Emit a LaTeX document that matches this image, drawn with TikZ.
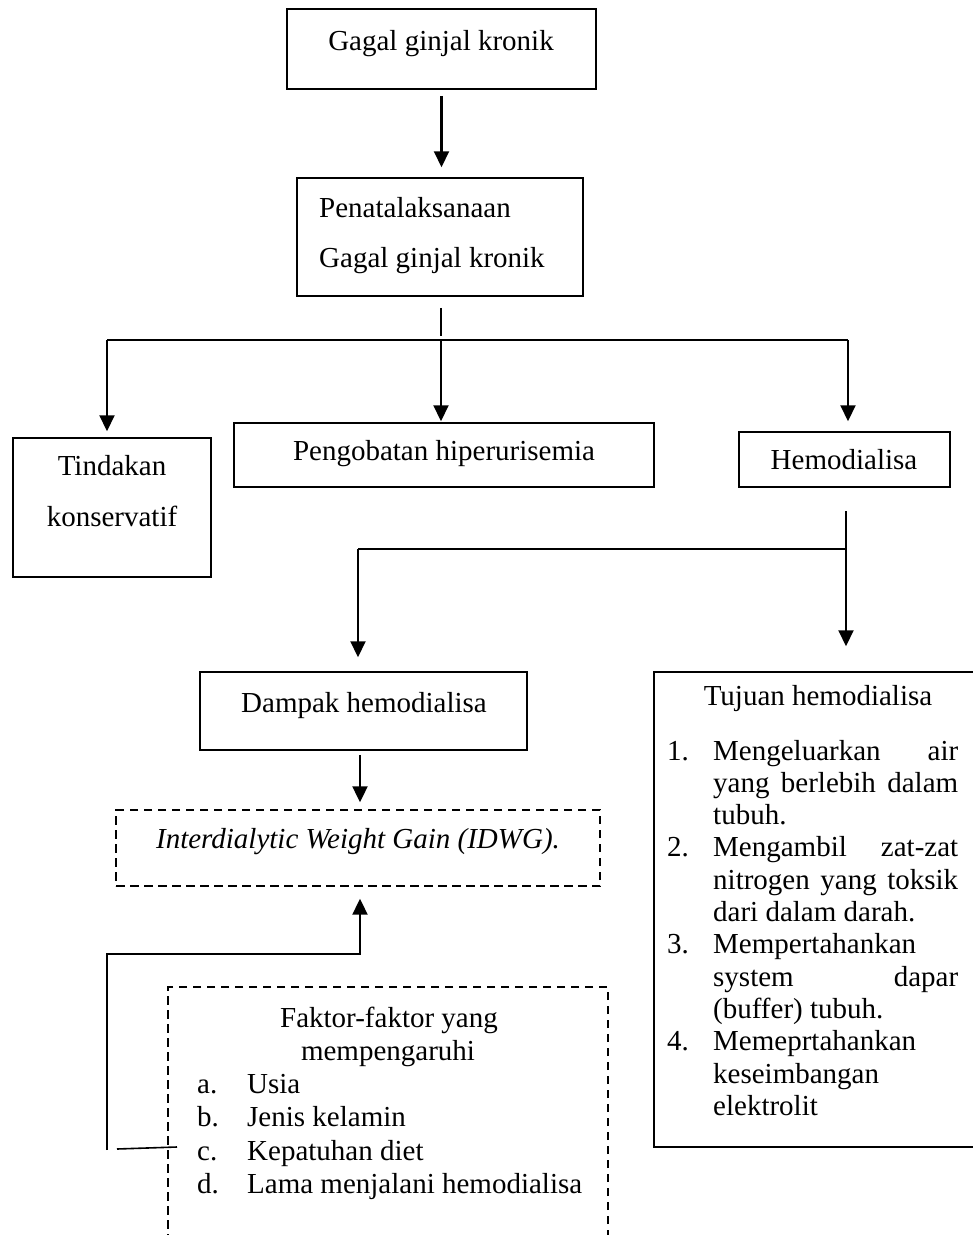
\documentclass[tikz,border=0pt]{standalone}
\usepackage{fontspec}
\setmainfont{Liberation Serif}
\usetikzlibrary{arrows.meta}
\begin{document}
\begin{tikzpicture}[x=1pt,y=-1pt,
  every node/.style={font=\fontsize{29}{32.4}\selectfont, inner sep=0pt},
  box/.style={draw, line width=1.5pt},
  dbox/.style={draw, line width=1.4pt, dash pattern=on 8.5pt off 5.5pt},
  conn/.style={line width=2.1pt},
  thinconn/.style={line width=1.2pt},
  arr/.style={conn, -{Triangle[length=16pt,width=15pt]}},
  txt/.style={anchor=base},
  ltxt/.style={anchor=base west},
  ]
\useasboundingbox (0,0) rectangle (973,1235);

% boxes
\node[box, minimum width=309pt, minimum height=80pt] (b1) at (441.5,49) {};
\node[box, minimum width=286pt, minimum height=118pt] (b2) at (440,237) {};
\node[box, minimum width=198pt, minimum height=139pt] (tk) at (112,507.5) {};
\node[box, minimum width=420pt, minimum height=64pt] (pg) at (444,455) {};
\node[box, minimum width=211pt, minimum height=55pt] (hd) at (844.5,459.5) {};
\node[box, minimum width=327pt, minimum height=78pt] (dp) at (363.5,711) {};
\node[dbox, minimum width=484pt, minimum height=76pt] (iw) at (358,848) {};
\begin{scope}
\clip (0,0) rectangle (973,1235);
\node[box, minimum width=340pt, minimum height=475pt] (tj) at (824,909.5) {};
\node[dbox, minimum width=440pt, minimum height=273pt] (fk) at (388,1123.5) {};
\end{scope}

% texts
\node[txt] (t-b1) at (441,50) {Gagal ginjal kronik};
\node[ltxt] (t-b2a) at (319,217) {Penatalaksanaan};
\node[ltxt] (t-b2b) at (319,267) {Gagal ginjal kronik};
\node[txt] (t-tka) at (112,475) {Tindakan};
\node[txt] (t-tkb) at (112,526) {konservatif};
\node[txt] (t-pg) at (444,460) {Pengobatan hiperurisemia};
\node[txt] (t-hd) at (844,469) {Hemodialisa};
\node[txt] (t-dp) at (364,712) {Dampak hemodialisa};
\node[txt] (t-iw) at (358,848) {\itshape Interdialytic Weight Gain (IDWG).};

\node[txt] (t-tj) at (818,705) {Tujuan hemodialisa};
\node[ltxt] (n1) at (667,760) {1.};
\node[ltxt] (l1) at (713,760) {\makebox[245pt][s]{Mengeluarkan air}};
\node[ltxt] (l2) at (713,792.3) {\makebox[245pt][s]{yang berlebih dalam}};
\node[ltxt] (l3) at (713,824.6) {tubuh.};
\node[ltxt] (n2) at (667,856.9) {2.};
\node[ltxt] (l4) at (713,856.9) {\makebox[245pt][s]{Mengambil zat-zat}};
\node[ltxt] (l5) at (713,889.2) {\makebox[245pt][s]{nitrogen yang toksik}};
\node[ltxt] (l6) at (713,921.5) {dari dalam darah.};
\node[ltxt] (n3) at (667,953.8) {3.};
\node[ltxt] (l7) at (713,953.8) {Mempertahankan};
\node[ltxt] (l8) at (713,986.1) {\makebox[245pt][s]{system dapar}};
\node[ltxt] (l9) at (713,1018.4) {(buffer) tubuh.};
\node[ltxt] (n4) at (667,1050.7) {4.};
\node[ltxt] (l10) at (713,1050.7) {Memeprtahankan};
\node[ltxt] (l11) at (713,1083) {keseimbangan};
\node[ltxt] (l12) at (713,1115.3) {elektrolit};

\node[txt] (f-a) at (389,1027) {Faktor-faktor yang};
\node[txt] (f-b) at (388,1060) {mempengaruhi};
\node[ltxt] (fa) at (197,1093) {a.};
\node[ltxt] (fat) at (247,1093) {Usia};
\node[ltxt] (fb) at (197,1126.5) {b.};
\node[ltxt] (fbt) at (247,1126.5) {Jenis kelamin};
\node[ltxt] (fc) at (197,1160) {c.};
\node[ltxt] (fct) at (247,1160) {Kepatuhan diet};
\node[ltxt] (fd) at (197,1193) {d.};
\node[ltxt] (fdt) at (247,1193) {Lama menjalani hemodialisa};

% coordinates
\coordinate (j1) at (441,340);
\coordinate (hl) at (107,340);
\coordinate (hr) at (848,340);
\coordinate (d0) at (846,511);
\coordinate (dj) at (846,549);
\coordinate (dl) at (358,549);
\coordinate (cx) at (360,0);
\coordinate (f1) at (107,1150);
\coordinate (f3) at (360,954);
\coordinate (s1) at (117,1149);
\coordinate (s2) at (177,1147);

% connectors
\draw[arr, shorten <=6pt, shorten >=10pt] (b1.south) -- (b1.south |- b2.north);
\draw[thinconn] (j1 |- b2.south) ++(0,11) -- ([yshift=4pt]j1);
\draw[conn] (hl) -- (hr);
\draw[arr, shorten >=6pt] (hl) -- (hl |- tk.north);
\draw[arr, shorten >=1pt] (j1) -- (j1 |- pg.north);
\draw[arr, shorten >=10pt] (hr) -- (hr |- hd.north);

\draw[arr, shorten >=25pt] (d0) -- (d0 |- tj.north);
\draw[conn] (dj) -- (dl);
\draw[arr, shorten >=14pt] (dl) -- (dl |- dp.north);

\draw[arr, shorten <=4pt, shorten >=7pt] (dp.south -| cx) -- (iw.north -| cx);
\draw[arr, shorten >=12pt] (f1) |- (f3) -- (f3 |- iw.south);
\draw[line width=1.6pt] (s1) -- (s2);
\end{tikzpicture}
\end{document}
